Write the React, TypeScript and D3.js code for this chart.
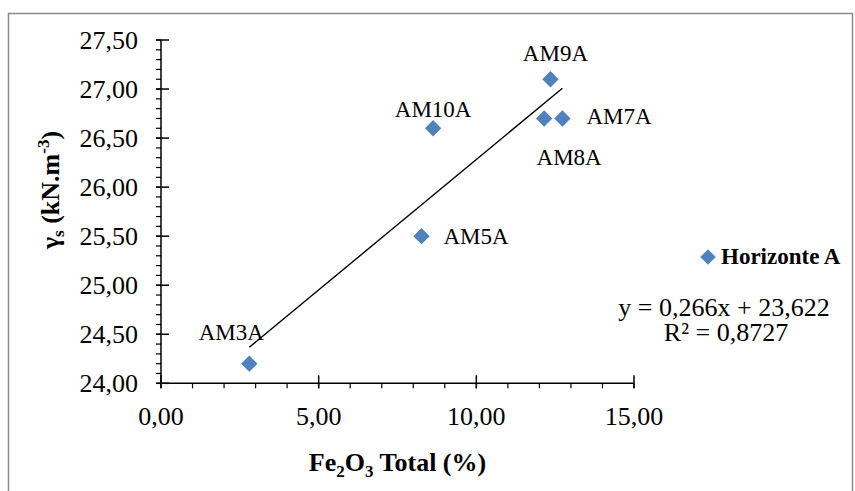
import React from "react";
import * as d3 from "d3";

// ---- Data ----
const sampleNames = ["AM3A", "AM5A", "AM10A", "AM9A", "AM8A", "AM7A"];
const fe2o3Values = [2.8, 8.26, 8.63, 12.35, 12.15, 12.73];
const gammaValues = [24.2, 25.5, 26.6, 27.1, 26.7, 26.7];
const seriesName = "Horizonte A";
const trendSlope = 0.266;
const trendIntercept = 23.622;
const equationText = "y = 0,266x + 23,622";
const r2Text = "R² = 0,8727";

// ---- Layout (label offsets relative to their points) ----
const labelLayout = [
  { dx: -18, dy: -24, anchor: "middle" },
  { dx: 22, dy: 8, anchor: "start" },
  { dx: 0, dy: -11, anchor: "middle" },
  { dx: 5, dy: -18, anchor: "middle" },
  { dx: 25, dy: 47, anchor: "middle" },
  { dx: 24, dy: 6, anchor: "start" },
];

const W = 855;
const H = 491;
const FONT = "'Liberation Serif', 'Times New Roman', serif";
const BLUE = "#4F81BD";

const locale = d3.formatLocale({
  decimal: ",",
  thousands: ".",
  grouping: [3],
  currency: ["", ""],
});
const fmt = locale.format(".2f");

export default function App() {
  const x = d3.scaleLinear().domain([0, 15]).range([161, 634]);
  const y = d3.scaleLinear().domain([24, 27.5]).range([383.3, 40]);

  const xMajor = d3.range(0, 15.001, 5);
  const xMinor = d3.range(0, 15.001, 1);
  const yMajor = d3.range(0, 8).map((i) => 24 + i * 0.5);
  const yMinor = d3.range(0, 36).map((i) => 24 + i * 0.1);

  const x0 = x.range()[0];
  const y0 = y.range()[0];

  const xMin = d3.min(fe2o3Values) as number;
  const xMax = d3.max(fe2o3Values) as number;
  const trendLine = d3
    .line<number>()
    .x((d) => x(d))
    .y((d) => y(trendSlope * d + trendIntercept));

  const diamond = d3.symbol().type(d3.symbolDiamond2).size(170)();
  const legendDiamond = d3.symbol().type(d3.symbolDiamond2).size(150)();

  return (
    <svg
      width={W}
      height={H}
      style={{ position: "absolute", left: 0, top: 0, background: "#fff" }}
      fontFamily={FONT}
    >
      <rect x={0} y={0} width={W} height={H} fill="#fff" />
      <rect
        x={8.5}
        y={13.5}
        width={844}
        height={H + 10}
        fill="none"
        stroke="#8c8c8c"
        strokeWidth={1.5}
      />

      {/* trendline */}
      <path
        d={trendLine([xMin, xMax]) || ""}
        stroke="#000"
        strokeWidth={1.4}
        fill="none"
      />

      {/* points */}
      {fe2o3Values.map((v, i) => (
        <path
          key={"p" + i}
          d={diamond || ""}
          transform={`translate(${x(v)},${y(gammaValues[i])})`}
          fill={BLUE}
        />
      ))}

      {/* data labels */}
      {sampleNames.map((n, i) => (
        <text
          key={"l" + i}
          x={x(fe2o3Values[i]) + labelLayout[i].dx}
          y={y(gammaValues[i]) + labelLayout[i].dy}
          textAnchor={labelLayout[i].anchor as any}
          fontSize={23}
          fill="#000"
        >
          {n}
        </text>
      ))}

      {/* y axis */}
      <line x1={x0} x2={x0} y1={y(27.5)} y2={y0} stroke="#000" strokeWidth={1.5} />
      {yMinor.map((t, i) => (
        <line key={"ym" + i} x1={x0 - 5} x2={x0} y1={y(t)} y2={y(t)} stroke="#000" strokeWidth={1.2} />
      ))}
      {yMajor.map((t, i) => (
        <g key={"yM" + i}>
          <line x1={x0 - 5} x2={x0 + 8} y1={y(t)} y2={y(t)} stroke="#000" strokeWidth={1.5} />
          <text
            x={138}
            y={y(t)}
            dy="0.35em"
            textAnchor="end"
            fontSize={26}
            fill="#000"
          >
            {fmt(t)}
          </text>
        </g>
      ))}

      {/* x axis */}
      <line x1={x0} x2={x(15)} y1={y0} y2={y0} stroke="#000" strokeWidth={1.5} />
      {xMinor.map((t, i) => (
        <line key={"xm" + i} x1={x(t)} x2={x(t)} y1={y0} y2={y0 + 5} stroke="#000" strokeWidth={1.2} />
      ))}
      {xMajor.map((t, i) => (
        <g key={"xM" + i}>
          <line x1={x(t)} x2={x(t)} y1={y0 - 8} y2={y0 + 5} stroke="#000" strokeWidth={1.5} />
          <text x={x(t)} y={425} textAnchor="middle" fontSize={26} fill="#000">
            {fmt(t)}
          </text>
        </g>
      ))}

      {/* axis titles */}
      <text
        x={(x0 + x(15)) / 2}
        y={471}
        textAnchor="middle"
        fontSize={26}
        fontWeight="bold"
        fill="#000"
      >
        Fe
        <tspan fontSize={17} dy={6}>2</tspan>
        <tspan dy={-6}>O</tspan>
        <tspan fontSize={17} dy={6}>3</tspan>
        <tspan dy={-6}> Total (%)</tspan>
      </text>

      <text
        transform="translate(59,190) rotate(-90)"
        textAnchor="middle"
        fontSize={26}
        fontWeight="bold"
        fill="#000"
      >
        γ
        <tspan fontSize={17} dy={5}>s</tspan>
        <tspan dy={-5}> (kN.m</tspan>
        <tspan fontSize={17} dy={-10}>-3</tspan>
        <tspan dy={10}>)</tspan>
      </text>

      {/* legend */}
      <path d={legendDiamond || ""} transform="translate(708,257)" fill={BLUE} />
      <text x={721} y={264} fontSize={23} fontWeight="bold" fill="#000">
        {seriesName}
      </text>

      {/* equation */}
      <text x={724} y={316} textAnchor="middle" fontSize={26} fill="#000">
        {equationText}
      </text>
      <text x={726} y={341} textAnchor="middle" fontSize={26} fill="#000">
        {r2Text}
      </text>
    </svg>
  );
}
